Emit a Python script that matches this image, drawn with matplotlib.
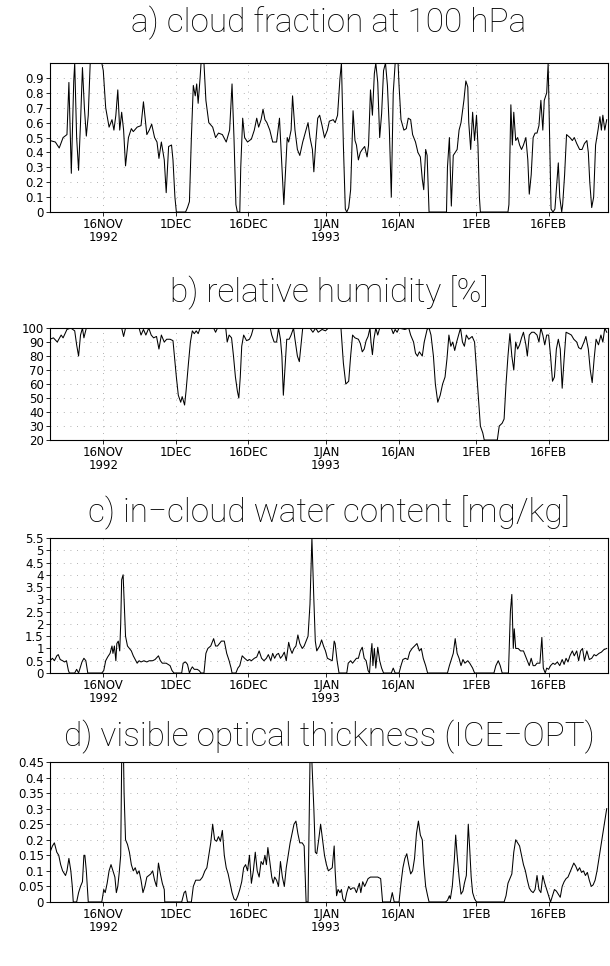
"""Time series of upper-tropospheric cloud properties, Nov 1992 - Feb 1993."""

from datetime import datetime

import matplotlib
matplotlib.use("Agg")
import matplotlib.pyplot as plt

BASE = datetime(1992, 11, 1)

# time axis in days since 1 Nov 1992 00Z
A_DAYS = [4.0, 5.1, 5.9, 6.7, 7.5, 7.9, 8.4, 8.9, 9.1, 9.5, 9.9, 10.3, 10.7, 11.1, 11.5, 11.9,
          12.3, 14.7, 15.0, 15.5, 16.2, 16.8, 17.2, 17.6, 18.0, 18.4, 18.8, 19.2, 19.6, 20.2,
          20.8, 21.2, 22.0, 22.8, 23.3, 24.0, 24.5, 25.0, 25.6, 26.1, 26.5, 27.0, 27.6, 28.0,
          28.5, 29.1, 29.4, 29.8, 30.1, 32.0, 32.4, 32.8, 33.2, 33.6, 34.0, 34.3, 34.6, 35.0,
          35.2, 35.8, 36.2, 36.8, 37.6, 38.2, 38.8, 39.6, 40.4, 41.1, 41.6, 42.0, 42.4, 42.7,
          43.2, 43.4, 43.8, 44.2, 44.8, 45.6, 46.2, 46.7, 47.1, 47.6, 48.0, 48.4, 48.8, 49.4,
          50.0, 50.8, 51.4, 51.9, 52.3, 52.7, 53.0, 53.3, 53.8, 54.1, 54.6, 55.1, 55.6, 56.2,
          56.7, 57.3, 57.7, 58.2, 58.5, 58.9, 59.3, 59.7, 60.2, 60.7, 61.3, 61.7, 62.5, 62.9,
          63.4, 63.9, 64.2, 64.6, 65.0, 65.3, 65.7, 66.1, 66.6, 67.0, 67.3, 67.7, 68.1, 68.5,
          69.0, 69.5, 69.8, 70.2, 70.6, 71.0, 71.3, 71.7, 72.1, 72.5, 72.9, 73.3, 73.7, 74.1,
          74.5, 74.9, 75.3, 75.9, 76.1, 76.5, 77.1, 77.6, 78.0, 78.5, 78.9, 79.5, 80.0, 80.5,
          80.9, 81.2, 81.6, 81.9, 82.3, 85.9, 86.1, 86.5, 86.9, 87.3, 87.7, 88.1, 88.5, 88.9,
          89.5, 89.9, 90.3, 90.5, 90.9, 91.3, 91.7, 92.1, 92.4, 92.7, 92.9, 98.6, 98.8, 99.2,
          99.5, 99.8, 100.2, 100.6, 101.0, 101.4, 101.8, 102.3, 102.7, 103.0, 103.4, 103.8,
          104.2, 104.6, 105.0, 105.4, 105.8, 106.1, 106.6, 106.9, 107.2, 107.5, 107.9, 108.3,
          108.7, 109.0, 109.3, 109.7, 109.9, 110.3, 110.7, 111.4, 111.9, 112.3, 112.8, 113.4,
          113.9, 114.4, 114.9, 115.2, 115.5, 115.9, 116.3, 116.7, 117.2, 117.6, 117.9, 118.2,
          118.6, 119.0]
CLOUD_FRAC = [0.48, 0.47, 0.43, 0.50, 0.52, 0.87, 0.26, 0.88, 1.0, 0.5, 0.28, 0.6, 0.97, 0.70,
              0.51, 0.65, 1.0, 1.0, 0.95, 0.70, 0.57, 0.62, 0.55, 0.65, 0.82, 0.55, 0.67, 0.55,
              0.31, 0.50, 0.56, 0.54, 0.57, 0.58, 0.74, 0.52, 0.55, 0.59, 0.50, 0.47, 0.36, 0.47,
              0.35, 0.13, 0.44, 0.45, 0.35, 0.10, 0.0, 0.0, 0.03, 0.07, 0.5, 0.85, 0.78, 0.86,
              0.73, 0.9, 1.0, 1.0, 0.75, 0.60, 0.57, 0.50, 0.53, 0.52, 0.47, 0.55, 0.86, 0.5,
              0.05, 0.0, 0.0, 0.3, 0.63, 0.50, 0.47, 0.49, 0.55, 0.63, 0.57, 0.62, 0.69, 0.62,
              0.60, 0.55, 0.47, 0.47, 0.63, 0.30, 0.05, 0.3, 0.50, 0.47, 0.55, 0.78, 0.55, 0.42,
              0.38, 0.47, 0.53, 0.60, 0.50, 0.42, 0.27, 0.47, 0.63, 0.65, 0.58, 0.50, 0.55, 0.61,
              0.62, 0.60, 0.65, 0.90, 1.0, 0.45, 0.02, 0.0, 0.03, 0.15, 0.68, 0.48, 0.45, 0.35,
              0.40, 0.42, 0.44, 0.37, 0.45, 0.82, 0.65, 0.93, 1.0, 0.87, 0.50, 0.66, 0.95, 1.0,
              0.85, 0.55, 0.10, 0.8, 1.0, 1.0, 0.85, 0.62, 0.55, 0.56, 0.63, 0.62, 0.52, 0.47,
              0.40, 0.37, 0.22, 0.15, 0.42, 0.38, 0.0, 0.0, 0.30, 0.50, 0.04, 0.38, 0.40, 0.42,
              0.55, 0.60, 0.75, 0.88, 0.84, 0.60, 0.42, 0.67, 0.48, 0.65, 0.45, 0.10, 0.0, 0.0,
              0.05, 0.72, 0.45, 0.67, 0.48, 0.50, 0.45, 0.42, 0.45, 0.50, 0.35, 0.12, 0.25, 0.50,
              0.53, 0.53, 0.58, 0.75, 0.55, 0.75, 0.80, 1.0, 0.50, 0.02, 0.0, 0.02, 0.2, 0.33,
              0.10, 0.0, 0.05, 0.25, 0.52, 0.50, 0.48, 0.50, 0.46, 0.42, 0.42, 0.46, 0.48, 0.40,
              0.20, 0.03, 0.1, 0.45, 0.55, 0.64, 0.55, 0.65, 0.55, 0.62]

B_DAYS = [4.0, 4.7, 5.5, 6.3, 6.7, 7.5, 8.3, 9.1, 9.5, 9.9, 10.3, 10.7, 11.0, 11.5, 18.8, 19.2,
          19.6, 22.4, 22.8, 23.3, 23.8, 24.4, 24.9, 25.4, 26.0, 26.5, 27.0, 27.6, 28.1, 28.8,
          29.4, 29.7, 30.1, 30.5, 31.0, 31.3, 31.8, 32.1, 32.6, 33.0, 33.4, 33.8, 34.2, 34.6,
          35.0, 37.8, 38.2, 38.6, 40.3, 40.6, 41.0, 41.5, 41.9, 42.3, 42.7, 43.0, 43.3, 43.6,
          44.0, 44.6, 45.2, 45.6, 46.0, 49.5, 49.8, 50.3, 50.8, 51.2, 51.6, 51.9, 52.2, 52.6,
          52.9, 53.4, 53.8, 54.3, 54.6, 55.1, 55.5, 55.9, 56.2, 57.7, 58.3, 58.9, 59.4, 60.2,
          60.9, 61.5, 64.1, 64.6, 65.1, 65.7, 66.1, 66.5, 67.0, 67.7, 68.1, 68.5, 68.9, 69.3,
          69.7, 70.1, 70.3, 70.6, 70.9, 71.3, 71.7, 72.1, 74.5, 74.9, 75.3, 75.7, 76.1, 77.3,
          78.1, 78.5, 79.1, 79.5, 79.9, 80.3, 80.9, 81.3, 81.9, 82.3, 82.7, 83.2, 83.6, 84.1,
          84.6, 85.1, 85.6, 86.0, 86.4, 86.8, 87.2, 87.6, 88.0, 88.4, 88.8, 89.2, 89.6, 90.0,
          90.5, 91.2, 91.7, 92.1, 92.5, 92.9, 93.4, 93.7, 96.4, 96.8, 97.4, 97.8, 98.2, 98.6,
          99.0, 99.4, 99.8, 100.2, 100.6, 101.0, 101.4, 101.8, 102.3, 102.6, 103.0, 103.5,
          104.0, 104.6, 105.0, 105.4, 105.8, 106.2, 106.6, 107.0, 107.4, 107.8, 108.2, 108.6,
          109.0, 109.4, 109.8, 110.2, 110.6, 111.2, 111.7, 112.2, 112.8, 113.2, 113.7, 114.3,
          114.7, 115.2, 115.6, 116.0, 116.4, 116.8, 117.3, 117.8, 118.2, 118.6, 119.0]
REL_HUM = [92, 93, 90, 95, 93, 99, 100, 98, 88, 80, 95, 100, 93, 100, 100, 94, 100, 100, 95, 99,
           95, 100, 95, 93, 94, 85, 95, 90, 92, 92, 91, 80, 65, 52, 47, 51, 45, 55, 75, 90, 98,
           96, 98, 96, 100, 100, 97, 100, 100, 90, 95, 93, 80, 65, 55, 50, 65, 87, 95, 91, 92,
           95, 100, 100, 95, 90, 90, 100, 92, 80, 52, 75, 92, 92, 95, 100, 92, 80, 76, 90, 100,
           100, 97, 100, 97, 99, 98, 100, 100, 75, 60, 62, 80, 95, 93, 92, 89, 83, 85, 91, 94,
           100, 90, 81, 92, 100, 95, 100, 100, 96, 99, 97, 100, 99, 100, 95, 90, 82, 80, 83, 80,
           90, 99, 100, 95, 80, 60, 47, 52, 60, 65, 78, 95, 87, 90, 84, 90, 95, 100, 90, 87, 95,
           92, 94, 90, 70, 50, 30, 25, 20, 20, 30, 32, 35, 60, 80, 96, 80, 70, 90, 85, 88, 93,
           97, 88, 80, 95, 97, 97, 95, 90, 100, 95, 88, 95, 95, 80, 62, 65, 85, 92, 85, 57, 78,
           97, 96, 95, 92, 90, 86, 85, 90, 94, 85, 70, 61, 78, 92, 88, 95, 90, 100, 97]

C_DAYS = [4.0, 4.5, 4.9, 5.4, 5.7, 6.1, 6.6, 7.0, 7.4, 7.8, 8.0, 9.1, 9.5, 9.9, 10.6, 11.0,
          11.4, 11.8, 14.7, 15.1, 15.5, 15.9, 16.4, 16.8, 17.0, 17.3, 17.6, 17.8, 18.1, 18.4,
          18.6, 18.8, 19.1, 19.3, 19.6, 20.0, 20.4, 20.8, 21.2, 21.6, 22.0, 22.4, 22.8, 23.4,
          24.0, 24.5, 25.2, 25.7, 26.4, 26.8, 27.2, 28.0, 28.8, 29.2, 29.6, 31.2, 31.5, 32.0,
          32.4, 32.8, 33.1, 33.4, 33.8, 34.4, 34.8, 35.2, 35.8, 36.2, 36.6, 37.2, 37.8, 38.2,
          38.6, 39.0, 39.4, 40.0, 40.5, 41.0, 41.4, 41.6, 42.4, 42.8, 43.2, 43.7, 44.2, 44.8,
          45.2, 45.6, 46.2, 46.7, 47.2, 47.7, 48.2, 48.7, 49.1, 49.6, 50.0, 50.4, 50.8, 51.2,
          51.6, 52.0, 52.4, 52.8, 53.3, 53.6, 54.0, 54.4, 54.8, 55.2, 55.6, 56.1, 56.5, 56.9,
          57.3, 57.7, 58.1, 58.5, 58.8, 59.1, 59.7, 60.1, 60.5, 60.9, 61.3, 61.8, 62.3, 62.7,
          62.9, 63.3, 63.7, 65.3, 65.6, 66.1, 66.5, 66.9, 67.3, 67.7, 68.1, 68.5, 68.9, 69.3,
          69.7, 70.0, 70.2, 70.5, 70.7, 71.0, 71.3, 71.7, 72.1, 72.5, 72.9, 74.5, 74.9, 75.3,
          76.1, 76.5, 76.9, 77.4, 77.9, 78.3, 78.8, 79.3, 79.8, 80.3, 80.7, 81.1, 81.6, 82.0,
          86.1, 86.5, 86.9, 87.3, 87.7, 88.1, 88.5, 88.9, 89.3, 89.7, 90.3, 90.7, 91.3, 91.7,
          95.7, 96.1, 96.6, 97.0, 97.4, 98.7, 99.1, 99.4, 99.7, 99.9, 100.2, 100.7, 101.2,
          101.8, 102.2, 102.6, 103.0, 103.4, 103.8, 104.2, 104.6, 105.2, 105.6, 105.9, 106.3,
          106.6, 107.0, 107.4, 107.9, 108.3, 108.8, 109.3, 109.8, 110.2, 110.6, 111.0, 111.4,
          111.9, 112.3, 112.8, 113.2, 113.6, 114.0, 114.4, 114.9, 115.4, 115.9, 116.4, 116.8,
          117.4, 117.9, 118.4, 119.0]
WATER = [0.5, 0.6, 0.5, 0.7, 0.75, 0.55, 0.5, 0.45, 0.5, 0.1, 0.0, 0.0, 0.15, 0.0, 0.45, 0.6,
         0.5, 0.0, 0.0, 0.1, 0.5, 0.65, 0.8, 1.1, 0.8, 1.1, 0.5, 1.2, 1.3, 0.9, 2.0, 3.8, 4.0,
         3.0, 1.5, 1.1, 1.0, 0.9, 0.7, 0.55, 0.4, 0.5, 0.45, 0.5, 0.45, 0.5, 0.5, 0.55, 0.7,
         0.5, 0.4, 0.4, 0.3, 0.1, 0.0, 0.0, 0.4, 0.45, 0.35, 0.0, 0.15, 0.25, 0.15, 0.15, 0.1,
         0.0, 0.0, 0.8, 1.0, 1.1, 1.4, 1.1, 1.1, 1.2, 1.3, 1.3, 0.8, 0.5, 0.2, 0.0, 0.0, 0.2,
         0.3, 0.7, 0.6, 0.5, 0.55, 0.5, 0.6, 0.65, 0.9, 0.6, 0.5, 0.6, 0.75, 0.5, 0.8, 0.6,
         0.75, 0.8, 0.6, 0.7, 0.85, 0.5, 1.25, 1.0, 0.8, 1.0, 1.1, 1.55, 1.2, 1.0, 1.1, 1.3,
         1.5, 2.8, 5.5, 3.0, 1.3, 0.9, 1.1, 1.35, 1.1, 0.9, 0.6, 0.55, 0.5, 1.3, 1.2, 0.5, 0.0,
         0.0, 0.4, 0.5, 0.4, 0.5, 0.6, 0.6, 0.9, 1.05, 0.6, 0.5, 0.1, 0.0, 0.6, 1.2, 0.3, 1.0,
         0.2, 1.05, 0.5, 0.2, 0.0, 0.0, 0.2, 0.0, 0.0, 0.3, 0.55, 0.6, 0.55, 0.85, 1.0, 1.1,
         1.2, 0.9, 1.0, 0.6, 0.3, 0.0, 0.0, 0.3, 0.55, 0.8, 1.4, 0.8, 0.6, 0.3, 0.55, 0.4, 0.5,
         0.4, 0.2, 0.0, 0.0, 0.3, 0.5, 0.3, 0.0, 0.0, 2.5, 3.2, 1.0, 1.8, 1.0, 1.0, 0.9, 0.9,
         0.7, 0.5, 0.3, 0.6, 0.3, 0.3, 0.4, 0.4, 1.45, 0.2, 0.0, 0.2, 0.15, 0.3, 0.4, 0.35,
         0.45, 0.3, 0.55, 0.35, 0.6, 0.45, 0.7, 0.9, 0.7, 0.9, 0.5, 0.9, 1.0, 0.5, 0.9, 0.55,
         0.6, 0.75, 0.7, 0.8, 0.85, 0.95, 1.0]

D_DAYS = [4.0, 4.5, 4.9, 5.4, 5.8, 6.2, 6.6, 7.0, 7.2, 7.5, 7.9, 8.3, 8.6, 8.8, 9.5, 9.9, 10.3,
          10.7, 11.0, 11.2, 11.5, 11.9, 14.7, 15.1, 15.4, 15.8, 16.2, 16.6, 17.0, 17.4, 17.7,
          18.0, 18.3, 18.6, 18.8, 19.2, 19.3, 19.6, 20.0, 20.4, 20.8, 21.2, 21.6, 22.0, 22.4,
          22.8, 23.2, 23.6, 24.0, 24.4, 24.8, 25.2, 25.6, 26.0, 26.4, 26.8, 27.2, 27.6, 27.7,
          31.2, 31.7, 32.0, 32.4, 33.2, 33.6, 34.1, 34.6, 35.0, 35.5, 36.0, 36.4, 36.8, 37.2,
          37.6, 38.0, 38.4, 38.8, 39.2, 39.6, 40.0, 40.4, 40.8, 41.2, 41.6, 42.0, 42.4, 42.8,
          43.2, 43.6, 44.0, 44.4, 44.8, 45.2, 45.6, 46.0, 46.4, 46.8, 47.2, 47.6, 48.0, 48.4,
          48.7, 49.0, 49.4, 49.8, 50.1, 50.4, 50.8, 51.2, 51.6, 52.0, 52.4, 52.8, 53.2, 53.6,
          54.0, 54.4, 54.8, 55.2, 55.6, 56.1, 56.5, 56.9, 57.3, 57.7, 58.1, 58.5, 58.8, 59.1,
          59.5, 59.9, 60.3, 60.7, 61.1, 61.5, 61.9, 62.3, 62.7, 62.9, 63.2, 63.5, 63.9, 64.2,
          64.5, 64.9, 65.3, 65.7, 66.1, 66.5, 66.9, 67.3, 67.7, 67.9, 68.2, 68.6, 69.0, 69.7,
          70.2, 70.9, 71.7, 72.3, 72.7, 74.3, 74.7, 75.1, 76.1, 76.5, 76.9, 77.3, 77.7, 78.1,
          78.5, 78.9, 79.3, 79.7, 80.1, 80.5, 80.9, 81.2, 81.6, 82.0, 82.3, 85.7, 86.1, 86.5,
          86.7, 87.1, 87.5, 87.8, 88.1, 88.5, 88.9, 89.3, 89.6, 90.0, 90.4, 90.7, 91.0, 91.3,
          91.7, 92.1, 97.8, 98.2, 98.6, 99.0, 99.4, 99.8, 100.2, 100.6, 101.0, 101.4, 101.8,
          102.2, 102.6, 103.0, 103.4, 103.8, 104.2, 104.6, 105.0, 105.4, 105.8, 106.2, 106.6,
          107.0, 107.4, 107.8, 108.2, 108.6, 109.0, 109.4, 109.8, 110.2, 110.6, 111.0, 111.4,
          111.8, 112.2, 112.6, 113.0, 113.4, 113.8, 114.2, 114.6, 115.0, 115.4, 115.8, 116.2,
          116.6, 117.0, 117.4, 117.8, 118.2, 118.6, 119.0]
OPT_THICK = [0.16, 0.18, 0.19, 0.16, 0.15, 0.12, 0.10, 0.09, 0.085, 0.10, 0.14, 0.10, 0.05, 0.0,
             0.0, 0.03, 0.05, 0.065, 0.15, 0.15, 0.1, 0.0, 0.0, 0.04, 0.03, 0.06, 0.10, 0.12,
             0.10, 0.08, 0.03, 0.05, 0.095, 0.15, 0.45, 0.45, 0.35, 0.2, 0.185, 0.16, 0.12,
             0.10, 0.11, 0.09, 0.10, 0.07, 0.03, 0.05, 0.08, 0.085, 0.09, 0.10, 0.07, 0.05,
             0.125, 0.09, 0.06, 0.04, 0.0, 0.0, 0.03, 0.035, 0.0, 0.0, 0.05, 0.07, 0.07, 0.07,
             0.08, 0.10, 0.11, 0.15, 0.19, 0.25, 0.20, 0.195, 0.21, 0.195, 0.23, 0.15, 0.11,
             0.09, 0.06, 0.03, 0.01, 0.005, 0.02, 0.04, 0.065, 0.11, 0.12, 0.10, 0.15, 0.06,
             0.10, 0.16, 0.10, 0.08, 0.13, 0.12, 0.15, 0.12, 0.175, 0.13, 0.08, 0.06, 0.08,
             0.07, 0.05, 0.13, 0.08, 0.05, 0.11, 0.15, 0.19, 0.22, 0.25, 0.26, 0.22, 0.19, 0.19,
             0.18, 0.0, 0.0, 0.45, 0.45, 0.30, 0.16, 0.155, 0.2, 0.25, 0.20, 0.15, 0.12, 0.10,
             0.105, 0.11, 0.18, 0.10, 0.02, 0.04, 0.03, 0.04, 0.01, 0.0, 0.03, 0.05, 0.04,
             0.045, 0.045, 0.03, 0.05, 0.06, 0.03, 0.065, 0.05, 0.075, 0.08, 0.08, 0.08, 0.075,
             0.0, 0.0, 0.03, 0.0, 0.0, 0.06, 0.11, 0.14, 0.155, 0.12, 0.09, 0.10, 0.14, 0.22,
             0.26, 0.215, 0.20, 0.12, 0.05, 0.02, 0.0, 0.0, 0.005, 0.02, 0.01, 0.05, 0.13,
             0.215, 0.15, 0.08, 0.025, 0.035, 0.06, 0.085, 0.25, 0.17, 0.08, 0.03, 0.01, 0.0,
             0.0, 0.02, 0.06, 0.075, 0.09, 0.16, 0.20, 0.19, 0.18, 0.15, 0.12, 0.10, 0.07,
             0.045, 0.035, 0.03, 0.04, 0.085, 0.04, 0.03, 0.085, 0.06, 0.04, 0.02, 0.0, 0.02,
             0.04, 0.035, 0.025, 0.015, 0.05, 0.065, 0.075, 0.08, 0.095, 0.11, 0.125, 0.115,
             0.1, 0.11, 0.095, 0.10, 0.085, 0.095, 0.07, 0.05, 0.055, 0.07, 0.10, 0.14, 0.18,
             0.22, 0.26, 0.30]

TICK_DATES = [datetime(1992, 11, 16), datetime(1992, 12, 1), datetime(1992, 12, 16),
              datetime(1993, 1, 1), datetime(1993, 1, 16), datetime(1993, 2, 1),
              datetime(1993, 2, 16)]
TICK_LABELS = ["16NOV\n1992", "1DEC", "16DEC", "1JAN\n1993", "16JAN", "1FEB", "16FEB"]

PANELS = [
    ("a) cloud fraction at 100 hPa", A_DAYS, CLOUD_FRAC, (0, 1.0),
     [0, 0.1, 0.2, 0.3, 0.4, 0.5, 0.6, 0.7, 0.8, 0.9]),
    ("b) relative humidity [%]", B_DAYS, REL_HUM, (20, 100),
     [20, 30, 40, 50, 60, 70, 80, 90, 100]),
    ("c) in\u2212cloud water content [mg/kg]", C_DAYS, WATER, (0, 5.5),
     [0, 0.5, 1, 1.5, 2, 2.5, 3, 3.5, 4, 4.5, 5, 5.5]),
    ("d) visible optical thickness (ICE\u2212OPT)", D_DAYS, OPT_THICK, (0, 0.45),
     [0, 0.05, 0.1, 0.15, 0.2, 0.25, 0.3, 0.35, 0.4, 0.45]),
]

# axes boxes in figure fractions: (bottom, height), title y
BOXES = [(0.7805, 0.1542, 0.976), (0.5445, 0.1159, 0.697),
         (0.3033, 0.1398, 0.469), (0.0663, 0.1449, 0.237)]


def main():
    fig = plt.figure(figsize=(6.1, 9.66), dpi=100)
    tick_pos = [(d - BASE).days for d in TICK_DATES]

    for (title, days, vals, ylim, yticks), (bot, h, ty) in zip(PANELS, BOXES):
        ax = fig.add_axes([0.082, bot, 0.915, h])
        ax.plot(days, vals, color="black", lw=0.75)
        ax.set_xlim(4.0, 119.3)
        ax.set_ylim(*ylim)
        ax.set_yticks(yticks)
        ax.set_yticklabels([f"{v:g}" for v in yticks], fontsize=8.5)
        ax.set_xticks(tick_pos)
        ax.set_xticklabels(TICK_LABELS, fontsize=8.5, linespacing=0.95)
        ax.tick_params(length=3, width=0.6, pad=1.5)
        ax.grid(True, color="0.6", lw=0.6, ls=(0, (1, 7)))
        for sp in ax.spines.values():
            sp.set_linewidth(0.8)
        fig.text(0.5395, ty, title, ha="center", va="center", fontsize=24,
                 family=["Roboto", "DejaVu Sans"], fontweight="light", color="black")

    fig.savefig("out.png", dpi=100)


if __name__ == "__main__":
    main()
